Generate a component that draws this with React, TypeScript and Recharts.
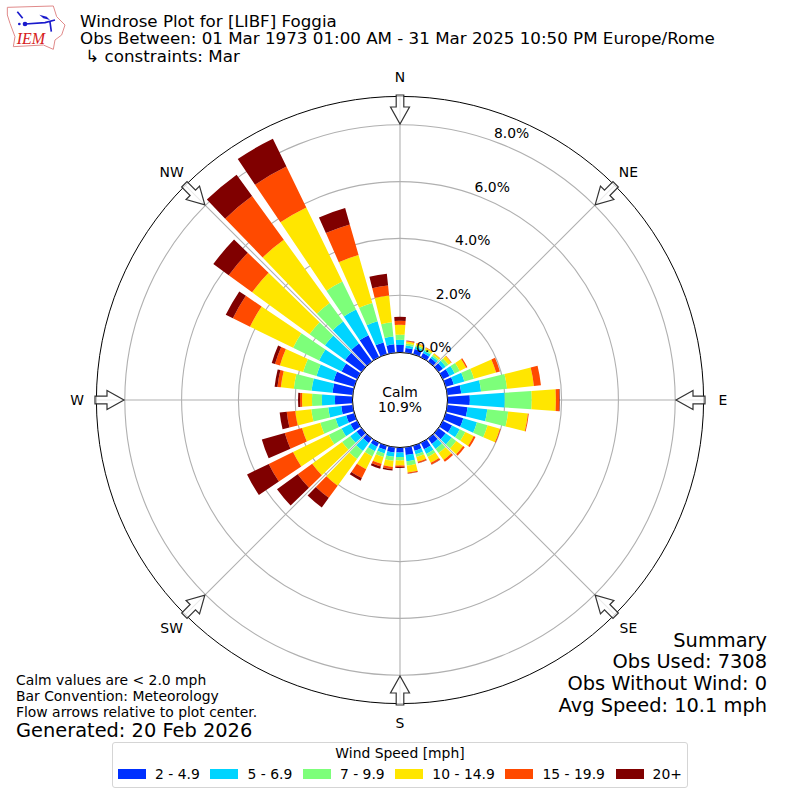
import React from 'react';
import { RadialBarChart, RadialBar, PolarAngleAxis, PolarRadiusAxis, PolarGrid, Legend } from 'recharts';

const directions = Array.from({ length: 36 }, (_, i) => i * 10);

const speed2to5 = [.25,.15,.18,.15,.14,.18,.25,.28,.48,.77,.7,.63,.35,.3,.22,.24,.17,.26,.16,.17,.14,.14,.18,.2,.25,.28,.39,.6,.7,.74,.6,.7,.77,.85,.42,.28];
const speed5to7 = [.18,.09,.08,.09,.08,.12,.2,.39,.7,1.23,.7,.5,.3,.26,.22,.18,.13,.22,.16,.15,.13,.18,.35,.28,.35,.39,.46,.46,.74,.63,.88,.88,.95,1.0,.77,.28];
const speed7to10 = [.18,.07,.06,.06,.06,.12,.2,.35,.92,.95,.74,.39,.22,.2,.18,.12,.1,.15,.12,.14,.13,.2,.35,.35,.5,.56,.6,.35,.63,.49,1.02,.67,.81,1.1,.67,.5];
const speed10to15 = [.35,.07,.06,.06,.06,.12,.25,.81,.95,.85,.7,.45,.33,.3,.3,.23,.17,.25,.18,.22,.25,.5,1.16,1.3,1.4,.67,.57,.35,.46,.85,1.69,2.5,2.75,2.9,1.76,.95];
const speed15to20 = [.14,.03,.02,.02,.01,.02,.05,.14,.25,.12,.03,.03,.07,.07,.08,.07,.05,.03,.05,.08,.1,.35,.53,.63,.95,.63,.3,.07,.12,.18,.67,1.02,1.9,1.6,1.12,.35];
const speed20up = [.14,.01,0,0,0,0,0,0,0,.02,0,0,0,0,0,.01,.01,.01,.03,.05,.08,.1,.42,.9,.85,.84,.25,.07,.1,.12,.28,.67,.93,1.09,.6,.42];

const bins = [
  { key: 'b1', label: '2 - 4.9', color: '#0030ff', values: speed2to5 },
  { key: 'b2', label: '5 - 6.9', color: '#00d4ff', values: speed5to7 },
  { key: 'b3', label: '7 - 9.9', color: '#7dff7a', values: speed7to10 },
  { key: 'b4', label: '10 - 14.9', color: '#ffe600', values: speed10to15 },
  { key: 'b5', label: '15 - 19.9', color: '#ff4a00', values: speed15to20 },
  { key: 'b6', label: '20+', color: '#800000', values: speed20up },
];
const radiusTicks = [0, 2, 4, 6, 8];
const compassLabels = ['N', 'NE', 'E', 'SE', 'S', 'SW', 'W', 'NW'];
const titleLines = ['Windrose Plot for [LIBF] Foggia', 'Obs Between: 01 Mar 1973 01:00 AM - 31 Mar 2025 10:50 PM Europe/Rome', ' \u21B3 constraints: Mar'];
const noteLines = ['Calm values are < 2.0 mph', 'Bar Convention: Meteorology', 'Flow arrows relative to plot center.'];
const summaryLines = ['Summary', 'Obs Used: 7308', 'Obs Without Wind: 0', 'Avg Speed: 10.1 mph'];

const table = directions.map((dir, i) => {
  const row: Record<string, number> = { dir };
  bins.forEach((b) => { row[b.key] = b.values[i]; });
  return row;
});

const FONT = '"DejaVu Sans", sans-serif';

const CompassMarks = () => (
  <g>
    {compassLabels.map((label, i) => {
      const deg = i * 45;
      const rad = (deg * Math.PI) / 180;
      const px = 400 + 323 * Math.sin(rad);
      const py = 400 - 323 * Math.cos(rad);
      return (
        <g key={label}>
          <g transform={`translate(${px},${py}) rotate(${deg})`}>
            <path d="M-3.8,18 L3.8,18 L3.8,30 L9.5,30 L0,47 L-9.5,30 L-3.8,30 Z" fill="#fff" fillOpacity={0.75} stroke="#333" strokeWidth={1.2} />
          </g>
          <text x={px} y={py} textAnchor="middle" dominantBaseline="central" fontFamily={FONT} fontSize={13.9} fill="#000">{label}</text>
        </g>
      );
    })}
  </g>
);

const radiusTick = (props: any) => {
  const { x, y, payload } = props;
  return (
    <text x={x + 17.5} y={y - 8} textAnchor="middle" dominantBaseline="central" fontFamily={FONT} fontSize={13.9} fill="#000">
      {`${payload.value.toFixed(1)}%`}
    </text>
  );
};

const legendContent = () => (
  <div style={{ boxSizing: 'border-box', width: 576, height: 46, border: '1px solid #d5d5d5', borderRadius: 3, background: '#fff', fontFamily: FONT, fontSize: 13.9, color: '#000', textAlign: 'center' }}>
    <div style={{ lineHeight: '16px', marginTop: 2 }}>Wind Speed [mph]</div>
    <div style={{ display: 'flex', justifyContent: 'space-between', padding: '0 5px', marginTop: 5 }}>
      {bins.map((b) => (
        <div key={b.key} style={{ display: 'flex', alignItems: 'center', whiteSpace: 'nowrap', lineHeight: '16px' }}>
          <span style={{ display: 'inline-block', width: 28, height: 10, background: b.color, marginRight: 9 }} />
          {b.label}
        </div>
      ))}
    </div>
  </div>
);

const Logo = () => (
  <g transform="scale(0.3333)">
    <path d="M22,22 L160,18 L170,50 L195,75 L185,105 L165,120 L160,148 L130,135 L40,140 L45,110 L30,70 L22,45 Z" fill="#fff" stroke="#e08a8a" strokeWidth={3} />
    <path d="M75,72 L135,68 L165,60 M52,35 L68,55 M150,66 L154,95" stroke="#1a1acc" strokeWidth={5} fill="none" />
    <path d="M118,44 L140,50 L150,60 L130,55 Z" fill="#1a1acc" />
    <circle cx={75} cy={72} r={7} fill="#1a1acc" />
    <circle cx={58} cy={72} r={4} fill="#1a1acc" />
    <text x={50} y={132} fontFamily='"Liberation Serif", serif' fontStyle="italic" fontSize={48} fill="#d62020">IEM</text>
  </g>
);

export default function App() {
  return (
    <div style={{ position: 'absolute', left: 0, top: 0, width: 800, height: 800, overflow: 'hidden', background: '#fff' }}>
      <RadialBarChart
        width={800}
        height={800}
        data={table}
        layout="centric"
        cx={400}
        cy={400}
        innerRadius={-8.8}
        outerRadius={303.6}
        startAngle={85}
        endAngle={-275}
        barCategoryGap="9.5%"
        margin={{ top: 0, right: 0, bottom: 0, left: 0 }}
      >
        <PolarAngleAxis type="category" dataKey="dir" axisLine={{ stroke: '#000', strokeWidth: 1 }} axisLineType="circle" tickLine={false} tick={false} />
        <PolarRadiusAxis type="number" angle={70} domain={[-2, 9]} allowDataOverflow ticks={radiusTicks} axisLine={false} tickLine={false} tick={radiusTick} />
        {bins.map((b) => (
          <RadialBar key={b.key} dataKey={b.key} stackId="wind" fill={b.color} isAnimationActive={false} />
        ))}
        <PolarGrid gridType="circle" polarAngles={[90, 45, 0, -45, -90, -135, 180, 135]} stroke="#b0b0b0" strokeWidth={1.1} />
        <circle cx={400} cy={400} r={47.5} fill="#fff" stroke="#000" strokeWidth={1} />
        <text x={400} y={392} textAnchor="middle" dominantBaseline="central" fontFamily={FONT} fontSize={13.9}>Calm</text>
        <text x={400} y={407} textAnchor="middle" dominantBaseline="central" fontFamily={FONT} fontSize={13.9}>10.9%</text>
        <Legend content={legendContent} wrapperStyle={{ position: 'absolute', left: 112, top: 742, width: 576, height: 46 }} />
      </RadialBarChart>
      <svg width={800} height={800} style={{ position: 'absolute', left: 0, top: 0, pointerEvents: 'none' }}>
        <CompassMarks />
        <Logo />
        {titleLines.map((t, i) => (
          <text key={i} x={80} y={20.5 + i * 17.5} dominantBaseline="central" fontFamily={FONT} fontSize={16.7} xmlSpace="preserve" style={{ whiteSpace: 'pre' }}>{t}</text>
        ))}
        {noteLines.map((t, i) => (
          <text key={i} x={16} y={680 + i * 16} dominantBaseline="central" fontFamily={FONT} fontSize={13.9}>{t}</text>
        ))}
        <text x={16} y={730} dominantBaseline="central" fontFamily={FONT} fontSize={19.4}>Generated: 20 Feb 2026</text>
        {summaryLines.map((t, i) => (
          <text key={i} x={767} y={640 + i * 21.7} textAnchor="end" dominantBaseline="central" fontFamily={FONT} fontSize={19.4}>{t}</text>
        ))}
      </svg>
    </div>
  );
}
